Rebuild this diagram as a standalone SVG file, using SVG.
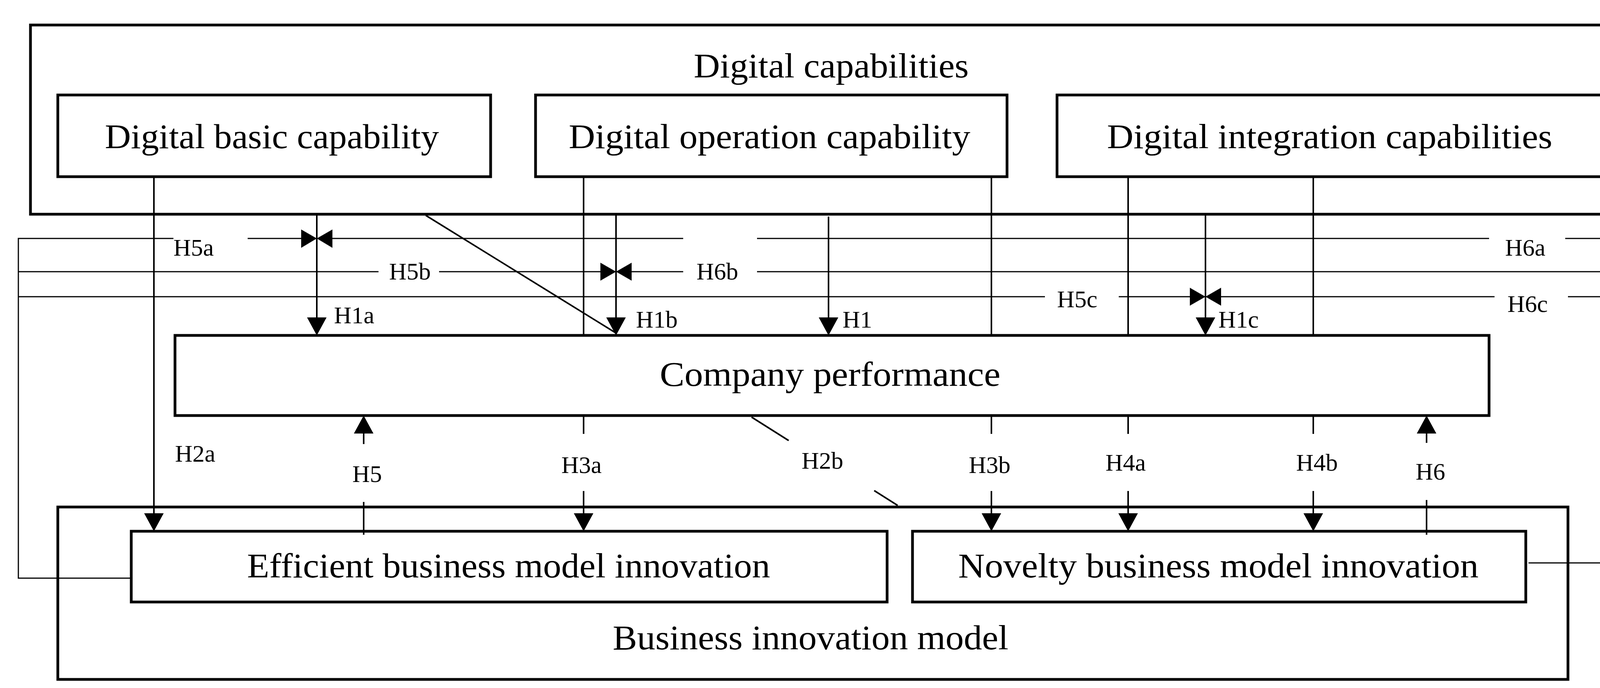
<svg xmlns="http://www.w3.org/2000/svg" width="4220" height="1760" viewBox="0 0 4220 1760">
<style>
.box{fill:none;stroke:#000;stroke-width:7}
.ln{fill:none;stroke:#000;stroke-width:4}
.tl{fill:none;stroke:#000;stroke-width:3}
.t{font-family:"Liberation Serif",serif;font-size:88px;fill:#000;text-anchor:middle}
.l{font-family:"Liberation Serif",serif;font-size:62px;fill:#000}
</style>
<defs>
<marker id="ah" markerUnits="userSpaceOnUse" markerWidth="46" markerHeight="50" refX="46" refY="25" orient="auto"><path d="M0,0 L46,25 L0,50 Z" fill="#000"/></marker>
</defs>
<rect width="4220" height="1760" fill="#fff"/>
<g id="digital-capabilities"><rect class="box" x="78" y="64" width="4108" height="484"/><text class="t" x="2128" y="198" textLength="704" lengthAdjust="spacingAndGlyphs">Digital capabilities</text></g>
<g id="basic"><rect class="box" x="148" y="243" width="1108" height="209"/><text class="t" x="696" y="379" textLength="855" lengthAdjust="spacingAndGlyphs">Digital basic capability</text></g>
<g id="operation"><rect class="box" x="1371" y="243" width="1207" height="209"/><text class="t" x="1970" y="379" textLength="1028" lengthAdjust="spacingAndGlyphs">Digital operation capability</text></g>
<g id="integration"><rect class="box" x="2706" y="243" width="1398" height="209"/><text class="t" x="3404" y="379" textLength="1140" lengthAdjust="spacingAndGlyphs">Digital integration capabilities</text></g>
<g id="company"><rect class="box" x="448" y="858" width="3364" height="205"/><text class="t" x="2125" y="987" textLength="872" lengthAdjust="spacingAndGlyphs">Company performance</text></g>
<g id="bim"><rect class="box" x="148" y="1297" width="3866" height="441"/><text class="t" x="2075" y="1661" textLength="1013" lengthAdjust="spacingAndGlyphs">Business innovation model</text></g>
<g id="efficient"><rect class="box" x="336" y="1359" width="1935" height="181"/><text class="t" x="1302" y="1477" textLength="1339" lengthAdjust="spacingAndGlyphs">Efficient business model innovation</text></g>
<g id="novelty"><rect class="box" x="2336" y="1359" width="1570" height="181"/><text class="t" x="3119" y="1477" textLength="1332" lengthAdjust="spacingAndGlyphs">Novelty business model innovation</text></g>
<g id="connectors">
<path class="tl" d="M444,610 H47 V1479 H336"/>
<path class="tl" d="M634,610 H771"/>
<path class="tl" d="M1749,610 H851"/>
<path class="tl" d="M1938,610 H3812"/>
<path class="tl" d="M4007,610 H4108 V1440 H3913"/>
<path class="tl" d="M47,695 H969"/>
<path class="tl" d="M1124,695 H1537"/>
<path class="tl" d="M1749,695 H1617"/>
<path class="tl" d="M1938,695 H4108"/>
<path class="tl" d="M47,759 H2675"/>
<path class="tl" d="M2864,759 H3046"/>
<path class="tl" d="M3826,759 H3126"/>
<path class="tl" d="M4014,759 H4108"/>
<polygon points="771,587 811,610 771,634" fill="#000"/>
<polygon points="851,587 811,610 851,634" fill="#000"/>
<polygon points="1537,672 1577,695 1537,718" fill="#000"/>
<polygon points="1617,672 1577,695 1617,718" fill="#000"/>
<polygon points="3046,736 3086,759 3046,782" fill="#000"/>
<polygon points="3126,736 3086,759 3126,782" fill="#000"/>
<path class="ln" d="M394,452 V1359" marker-end="url(#ah)"/>
<path class="ln" d="M811,551 V858" marker-end="url(#ah)"/>
<path class="ln" d="M1577,551 V858" marker-end="url(#ah)"/>
<path class="ln" d="M2121,554 V858" marker-end="url(#ah)"/>
<path class="ln" d="M3086,551 V858" marker-end="url(#ah)"/>
<path class="ln" d="M1494,452 V858 M1494,1063 V1110"/>
<path class="ln" d="M1494,1256 V1359" marker-end="url(#ah)"/>
<path class="ln" d="M2538,452 V858 M2538,1063 V1110"/>
<path class="ln" d="M2538,1256 V1359" marker-end="url(#ah)"/>
<path class="ln" d="M2888,452 V858 M2888,1063 V1110"/>
<path class="ln" d="M2888,1256 V1359" marker-end="url(#ah)"/>
<path class="ln" d="M3362,452 V858 M3362,1063 V1110"/>
<path class="ln" d="M3362,1256 V1359" marker-end="url(#ah)"/>
<path class="ln" d="M931,1368 V1284"/>
<path class="ln" d="M931,1136 V1063" marker-end="url(#ah)"/>
<path class="ln" d="M3652,1368 V1279"/>
<path class="ln" d="M3652,1133 V1063" marker-end="url(#ah)"/>
<path class="ln" d="M1090,551 L1577,852"/>
<path class="ln" d="M1924,1067 L2019,1127 M2238,1255 L2298,1293"/>
</g>
<g id="labels">
<text class="l" x="444" y="654">H5a</text>
<text class="l" x="996" y="715">H5b</text>
<text class="l" x="1783" y="715">H6b</text>
<text class="l" x="3853" y="654">H6a</text>
<text class="l" x="2706" y="786">H5c</text>
<text class="l" x="3859" y="798">H6c</text>
<text class="l" x="855" y="827">H1a</text>
<text class="l" x="1628" y="838">H1b</text>
<text class="l" x="2157" y="838">H1</text>
<text class="l" x="3119" y="838">H1c</text>
<text class="l" x="448" y="1181">H2a</text>
<text class="l" x="902" y="1233">H5</text>
<text class="l" x="1437" y="1210">H3a</text>
<text class="l" x="2052" y="1199">H2b</text>
<text class="l" x="2480" y="1210">H3b</text>
<text class="l" x="2830" y="1204">H4a</text>
<text class="l" x="3318" y="1204">H4b</text>
<text class="l" x="3624" y="1227">H6</text>
</g>
</svg>
